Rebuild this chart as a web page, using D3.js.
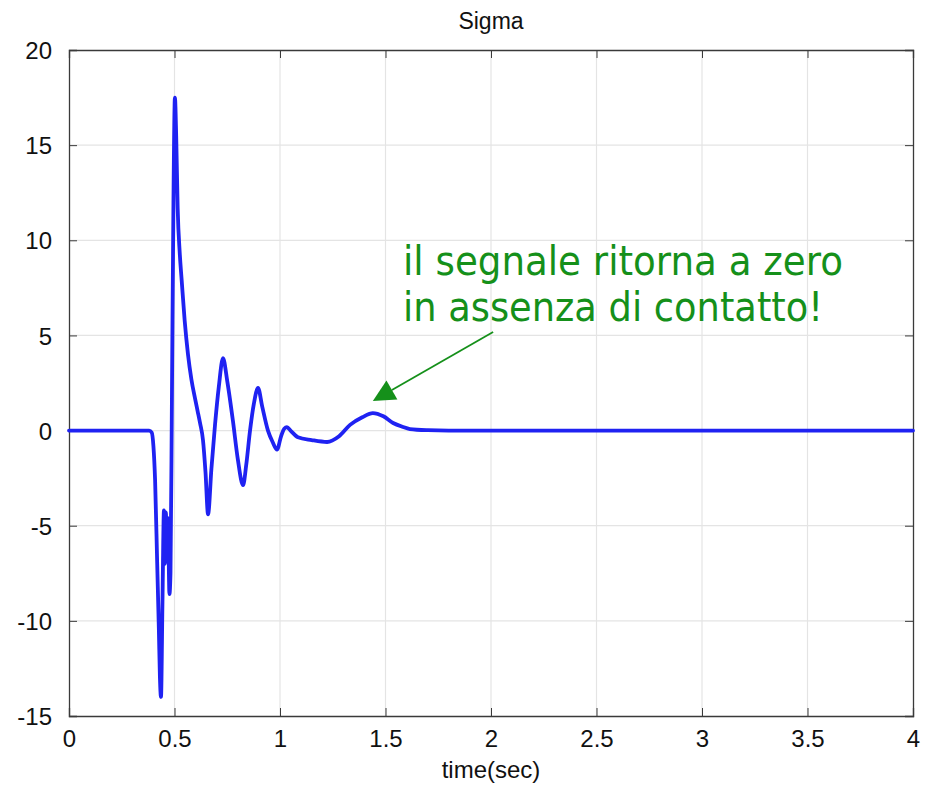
<!DOCTYPE html>
<html>
<head>
<meta charset="utf-8">
<script src="https://cdn.jsdelivr.net/npm/d3@7"></script>
<style>
  html, body { margin: 0; padding: 0; background: #ffffff; }
  svg { display: block; }
  text { font-family: Arial, "Liberation Sans", sans-serif; }
</style>
</head>
<body>
<div id="chart"></div>
<script>
// Sigma signal over time (seconds)
const time = [0, 0.38, 0.392, 0.400, 0.408, 0.418, 0.426, 0.431, 0.436, 0.443, 0.450, 0.455, 0.459, 0.464, 0.469, 0.476, 0.481,
  0.488, 0.495, 0.502, 0.508, 0.515, 0.525, 0.534, 0.548, 0.564, 0.58, 0.597, 0.61, 0.621, 0.635, 0.647, 0.659, 0.675,
  0.692, 0.71, 0.73, 0.75, 0.777, 0.80, 0.825, 0.84, 0.858, 0.876, 0.896, 0.915, 0.943, 0.965, 0.986, 1.005, 1.02,
  1.033, 1.05, 1.085, 1.15, 1.223, 1.28, 1.332, 1.39, 1.44, 1.49, 1.536, 1.58, 1.616, 1.7, 1.8, 2.0, 2.5, 3, 3.5, 4];
const sigma = [0, 0, -0.1, -0.8, -2.6, -7, -10.5, -13, -14.0, -9, -4.2, -7.0, -4.3, -6.5, -4.6, -8.6, -7.5,
  2, 12, 17.5, 15.5, 11.7, 9.3, 7.9, 5.8, 4.0, 2.7, 1.7, 1.0, 0.4, -0.5, -2.2, -4.4, -2.0,
  0.3, 2.3, 3.8, 2.6, 0.5, -1.5, -2.87, -1.8, 0, 1.4, 2.24, 1.3, 0, -0.6, -1.0, -0.3, 0.1,
  0.18, 0.0, -0.35, -0.5, -0.6, -0.3, 0.3, 0.7, 0.92, 0.75, 0.4, 0.2, 0.08, 0.02, 0.0, 0, 0, 0, 0, 0];

const xTicks = [0, 0.5, 1, 1.5, 2, 2.5, 3, 3.5, 4];
const xTickLabels = ["0", "0.5", "1", "1.5", "2", "2.5", "3", "3.5", "4"];
const yTicks = [-15, -10, -5, 0, 5, 10, 15, 20];
const yTickLabels = ["-15", "-10", "-5", "0", "5", "10", "15", "20"];

const chartTitle = "Sigma";
const xLabel = "time(sec)";
const noteLines = ["il segnale ritorna a zero", "in assenza di contatto!"];
// annotation anchor (data units): arrow tip and tail
const noteTip = { t: 1.44, v: 1.56 };
const noteTail = { t: 2.01, v: 5.18 };
const noteText = { t: 1.583, v: 8.2 };

const W = 925, H = 786;
const margin = { top: 50, right: 12, bottom: 70, left: 69 };
const iw = W - margin.left - margin.right;
const ih = H - margin.top - margin.bottom;

const svg = d3.select("#chart").append("svg")
  .attr("width", W).attr("height", H);

const g = svg.append("g").attr("transform", `translate(${margin.left},${margin.top})`);

const x = d3.scaleLinear().domain([0, 4]).range([0, iw]);
const y = d3.scaleLinear().domain([-15, 20]).range([ih, 0]);

// grid
g.append("g").selectAll("line.gx").data(xTicks.slice(1, -1)).join("line")
  .attr("x1", d => x(d)).attr("x2", d => x(d))
  .attr("y1", 0).attr("y2", ih)
  .attr("stroke", "#e4e4e4").attr("stroke-width", 1.2);
g.append("g").selectAll("line.gy").data(yTicks.slice(1, -1)).join("line")
  .attr("y1", d => y(d)).attr("y2", d => y(d))
  .attr("x1", 0).attr("x2", iw)
  .attr("stroke", "#e4e4e4").attr("stroke-width", 1.2);

// axes with inward ticks
const fmtX = d => xTickLabels[xTicks.indexOf(d)];
const fmtY = d => yTickLabels[yTicks.indexOf(d)];

const axB = g.append("g").attr("transform", `translate(0,${ih})`)
  .call(d3.axisBottom(x).tickValues(xTicks).tickFormat(fmtX).tickSize(-8).tickPadding(14));
const axT = g.append("g")
  .call(d3.axisTop(x).tickValues(xTicks).tickFormat("").tickSize(-8));
const axL = g.append("g")
  .call(d3.axisLeft(y).tickValues(yTicks).tickFormat(fmtY).tickSize(-8).tickPadding(17));
const axR = g.append("g").attr("transform", `translate(${iw},0)`)
  .call(d3.axisRight(y).tickValues(yTicks).tickFormat("").tickSize(-8));

[axB, axT, axL, axR].forEach(a => {
  a.select(".domain").attr("stroke", "#3a3a3a").attr("stroke-width", 1.3);
  a.selectAll(".tick line").attr("stroke", "#3a3a3a").attr("stroke-width", 1);
  a.selectAll("text").attr("fill", "#111").style("font-size", "24px")
    .style("font-family", "Arial, 'Liberation Sans', sans-serif");
});
axL.selectAll("text").attr("dy", "0.36em");

// signal
const line = d3.line()
  .x((d, i) => x(time[i]))
  .y(d => y(d))
  .curve(d3.curveMonotoneX);

g.append("path")
  .datum(sigma)
  .attr("d", line)
  .attr("fill", "none")
  .attr("stroke", "#1f22f2")
  .attr("stroke-width", 3.8)
  .attr("stroke-linejoin", "round")
  .attr("stroke-linecap", "round");

// title and x label
svg.append("text")
  .attr("x", margin.left + iw / 2 + 0).attr("y", 29)
  .attr("text-anchor", "middle")
  .style("font-size", "23px").attr("fill", "#111")
  .text(chartTitle);

svg.append("text")
  .attr("x", margin.left + iw / 2).attr("y", 778)
  .attr("text-anchor", "middle")
  .style("font-size", "24px").attr("fill", "#111")
  .text(xLabel);

// annotation
const green = "#15901a";
const tipX = x(noteTip.t), tipY = y(noteTip.v);
const tailX = x(noteTail.t), tailY = y(noteTail.v);
const ang = Math.atan2(tipY - tailY, tipX - tailX);
const headLen = 22, headHalf = 11;
const bx = tipX - headLen * Math.cos(ang), by = tipY - headLen * Math.sin(ang);
const px = -Math.sin(ang), py = Math.cos(ang);

g.append("line")
  .attr("x1", tailX).attr("y1", tailY).attr("x2", bx).attr("y2", by)
  .attr("stroke", green).attr("stroke-width", 1.8);
g.append("polygon")
  .attr("points", [[tipX, tipY], [bx + px * headHalf, by + py * headHalf], [bx - px * headHalf, by - py * headHalf]]
    .map(p => p.join(",")).join(" "))
  .attr("fill", green);

const noteWidths = [440, 420];
g.append("g").selectAll("text").data(noteLines).join("text")
  .attr("x", x(noteText.t))
  .attr("y", (d, i) => y(noteText.v) + i * 46)
  .attr("textLength", (d, i) => noteWidths[i])
  .attr("lengthAdjust", "spacingAndGlyphs")
  .style("font-family", "'DejaVu Sans', Verdana, sans-serif")
  .style("font-size", "40px")
  .attr("fill", green)
  .text(d => d);
</script>
</body>
</html>
